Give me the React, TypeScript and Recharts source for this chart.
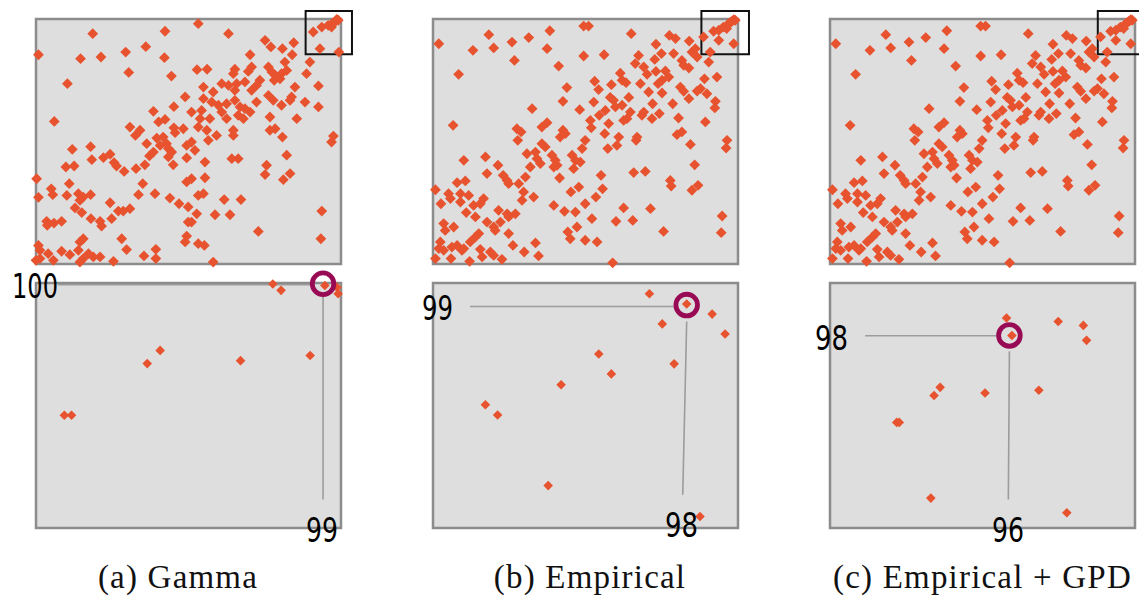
import React from 'react';
import { ScatterChart, Scatter, XAxis, YAxis, ReferenceArea, ReferenceLine } from 'recharts';

const POINT = '#e8532f';
const PANEL_BG = '#dedede';
const PANEL_EDGE = '#8c8c8c';
const RING = '#990a55';
const LEADER = '#9c9c9c';

// top panels: percentile rank of true vs. estimated (0-100)
const gammaTop: [number, number][] = [
  [42.3, 95.0], [18.6, 94.0], [0.8, 85.4], [14.6, 83.8], [21.3, 84.5], [29.4, 86.5], [36.0, 88.7], [42.1, 84.2],
  [30.4, 78.2], [44.4, 76.7], [10.3, 73.6], [48.9, 68.2], [38.5, 62.3], [45.2, 64.2], [6.0, 58.2], [30.8, 55.9],
  [40.2, 58.0], [42.3, 59.0], [34.1, 54.6], [32.6, 52.5], [45.2, 55.6], [48.3, 55.2], [45.6, 53.6], [39.6, 51.4],
  [41.7, 51.8], [36.3, 49.1], [40.7, 48.4], [42.8, 49.1], [49.4, 48.4], [43.4, 47.1], [44.5, 45.7], [38.5, 45.7],
  [37.2, 44.1], [43.4, 43.7], [45.0, 40.5], [49.4, 43.3], [11.9, 46.8], [17.9, 47.9], [18.3, 42.6], [22.1, 43.4],
  [24.3, 44.8], [25.6, 41.4], [26.4, 40.0], [28.9, 37.8], [32.8, 38.9], [35.7, 40.5], [9.8, 39.6], [12.5, 40.0],
  [0.2, 34.8], [35.0, 32.8], [10.9, 32.8], [5.0, 30.7], [5.5, 28.3], [0.8, 27.2], [10.1, 28.0], [13.9, 28.7],
  [15.5, 27.3], [17.9, 28.3], [14.4, 26.0], [33.6, 28.3], [39.0, 28.7], [43.9, 26.9], [46.9, 24.6], [49.4, 33.5],
  [49.9, 23.3], [24.3, 25.0], [12.8, 22.9], [15.0, 21.0], [27.0, 21.6], [28.6, 21.6], [30.8, 22.6], [3.5, 17.4],
  [3.7, 15.8], [5.9, 16.7], [8.4, 17.4], [18.0, 18.5], [21.0, 17.4], [21.5, 15.5], [24.8, 18.5], [49.9, 17.1],
  [28.1, 10.3], [15.5, 10.3], [14.4, 9.0], [13.9, 5.6], [49.4, 11.4], [48.9, 9.0], [0.8, 7.6], [1.3, 5.6],
  [4.0, 4.2], [8.4, 5.2], [11.1, 3.8], [0.0, 1.5], [1.3, 2.2], [5.7, 1.5], [14.4, 0.8], [15.5, 2.2],
  [17.2, 4.2], [18.8, 2.9], [21.0, 2.9], [25.4, 1.1], [29.7, 5.9], [35.4, 3.3], [39.3, 6.0], [39.3, 2.2],
  [53.2, 98.1], [63.1, 94.0], [75.1, 91.3], [77.0, 88.6], [80.8, 87.9], [84.5, 90.3], [70.2, 85.4], [84.0, 85.4],
  [81.6, 82.4], [52.8, 79.3], [56.1, 79.5], [65.2, 79.5], [64.7, 77.7], [69.6, 78.6], [70.7, 80.4], [76.2, 80.4],
  [77.3, 78.4], [78.4, 77.0], [80.5, 77.7], [82.2, 79.0], [80.0, 75.6], [78.1, 75.0], [73.4, 75.0], [72.3, 72.9],
  [68.5, 74.3], [60.9, 73.6], [63.1, 72.9], [65.8, 73.6], [65.2, 70.9], [70.7, 70.9], [54.9, 72.2], [58.1, 70.2],
  [89.8, 82.4], [88.7, 77.7], [92.6, 72.7], [84.9, 72.2], [54.9, 67.5], [57.6, 66.1], [59.8, 64.8], [62.5, 65.4],
  [65.2, 66.8], [66.9, 64.1], [68.5, 63.4], [70.2, 62.0], [72.3, 66.1], [76.2, 68.8], [77.8, 66.8], [80.5, 64.8],
  [83.3, 66.8], [83.8, 68.2], [88.2, 66.1], [92.6, 64.1], [51.0, 62.0], [54.3, 62.7], [53.8, 59.3], [57.0, 59.3],
  [60.9, 62.0], [62.5, 59.3], [66.3, 60.7], [68.0, 59.3], [53.2, 55.9], [56.0, 54.6], [59.2, 52.5], [56.5, 50.5],
  [64.7, 54.6], [64.7, 52.5], [76.7, 54.6], [78.4, 55.2], [80.8, 51.8], [85.5, 59.3], [76.7, 60.0], [51.0, 49.8],
  [52.1, 46.4], [55.4, 41.6], [64.2, 43.0], [66.3, 43.0], [82.2, 44.4], [75.6, 40.3], [75.1, 36.5], [83.3, 36.9],
  [81.1, 34.4], [97.5, 52.2], [96.9, 49.8], [51.0, 34.8], [55.4, 35.2], [53.2, 28.0], [54.9, 28.7], [52.7, 20.5],
  [51.0, 17.1], [58.7, 20.1], [63.6, 20.1], [61.7, 26.3], [67.2, 26.3], [93.7, 21.6], [72.9, 13.3], [93.4, 10.3],
  [53.2, 8.3], [55.2, 7.6], [58.1, 0.8], [90.9, 94.7], [93.7, 96.7], [95.8, 97.4], [98.0, 98.8], [99.1, 99.5],
  [96.9, 96.7], [93.1, 87.9], [99.3, 86.5], [97.2, 98.3], [98.6, 99.8],
];

// empirical and empirical + GPD share the same ranks in the full view
const empiricalTop: [number, number][] = [
  [49.4, 97.1], [1.9, 89.9], [18.3, 93.6], [25.9, 90.6], [31.4, 92.4], [38.3, 95.2], [13.1, 87.2], [19.9, 88.2],
  [37.4, 87.9], [49.4, 84.9], [26.7, 83.1], [41.2, 80.8], [8.4, 77.4], [43.9, 72.0], [42.6, 66.4], [48.1, 63.0],
  [32.5, 63.4], [6.6, 56.6], [27.5, 55.2], [28.9, 53.9], [27.8, 50.5], [35.7, 55.9], [37.4, 57.7], [42.6, 54.6],
  [43.4, 53.2], [41.7, 51.8], [35.7, 49.1], [36.8, 47.8], [49.9, 50.5], [48.9, 47.1], [30.8, 45.0], [33.6, 45.7],
  [34.1, 43.0], [35.2, 41.0], [31.9, 39.6], [39.0, 44.4], [40.1, 42.3], [39.6, 39.6], [40.7, 40.3], [45.6, 44.4],
  [46.7, 42.3], [48.3, 41.6], [46.1, 38.9], [41.5, 35.1], [10.1, 42.3], [17.2, 43.7], [21.3, 40.3], [17.7, 36.9],
  [23.0, 36.2], [24.3, 34.1], [24.8, 32.8], [28.1, 32.8], [30.3, 35.5], [29.7, 29.4], [33.0, 27.3], [29.2, 26.0],
  [7.9, 33.2], [10.6, 33.9], [0.8, 30.3], [5.1, 28.7], [5.7, 26.7], [2.6, 24.6], [9.0, 28.7], [11.7, 28.0],
  [9.0, 25.3], [13.3, 23.9], [15.5, 24.6], [16.6, 26.7], [10.9, 21.0], [13.9, 19.2], [21.5, 21.9], [24.3, 20.5],
  [24.8, 19.2], [27.0, 20.5], [22.1, 17.1], [17.7, 17.1], [19.9, 15.1], [20.4, 13.7], [39.6, 23.9], [43.1, 21.5],
  [46.7, 21.2], [45.2, 29.4], [47.8, 31.4], [49.9, 24.6], [47.2, 15.1], [44.2, 13.1], [45.0, 10.3], [49.9, 9.7],
  [3.5, 16.5], [4.0, 13.7], [6.8, 15.1], [2.4, 9.0], [1.9, 6.3], [3.5, 5.6], [6.2, 6.9], [7.9, 7.6],
  [10.1, 6.3], [12.2, 9.0], [13.9, 11.0], [15.0, 12.4], [15.5, 6.0], [18.8, 4.9], [19.9, 3.5], [24.8, 12.4],
  [26.2, 7.6], [29.9, 4.9], [33.6, 8.6], [34.6, 3.3], [0.8, 2.2], [5.9, 2.2], [12.0, 1.1], [16.1, 2.9],
  [22.6, 1.9], [9.5, 5.6],
  [51.0, 97.1], [65.0, 94.0], [77.5, 93.3], [79.5, 92.0], [84.0, 91.0], [88.7, 92.7], [73.1, 89.7], [74.9, 85.9],
  [72.7, 83.5], [78.9, 85.9], [67.4, 85.1], [66.3, 81.8], [69.1, 80.4], [56.1, 85.4], [86.0, 87.9], [84.9, 86.5],
  [86.6, 84.5], [81.6, 83.1], [82.2, 81.1], [83.9, 80.0], [90.4, 82.4], [61.4, 77.9], [70.2, 77.4], [73.1, 78.6],
  [76.2, 78.8], [77.3, 76.3], [75.1, 75.0], [53.0, 74.6], [54.3, 71.2], [58.5, 73.2], [62.0, 75.0], [63.3, 74.0],
  [68.0, 73.6], [73.8, 73.6], [70.7, 70.2], [75.1, 69.8], [81.1, 72.2], [82.2, 70.5], [83.9, 67.5], [86.6, 70.6],
  [87.7, 71.6], [89.8, 69.5], [89.0, 75.6], [93.1, 76.3], [92.6, 66.4], [92.4, 63.7], [78.6, 65.4], [72.0, 65.4],
  [64.2, 68.0], [58.1, 68.0], [59.2, 66.8], [52.7, 66.1], [56.5, 62.7], [54.5, 60.7], [59.8, 64.1], [62.0, 64.8],
  [64.7, 62.0], [63.6, 59.3], [62.5, 58.6], [69.1, 62.0], [68.5, 60.7], [71.8, 59.3], [74.2, 61.4], [80.5, 59.6],
  [89.3, 58.0], [51.6, 58.6], [51.9, 55.6], [57.6, 57.3], [56.3, 53.2], [60.9, 51.8], [60.3, 48.4], [66.9, 51.8],
  [66.6, 50.5], [57.3, 47.1], [80.0, 52.8], [81.6, 53.9], [84.4, 48.8], [96.4, 50.5], [96.1, 47.3], [85.8, 40.5],
  [65.8, 37.3], [69.6, 37.8], [77.8, 34.1], [78.1, 31.8], [84.9, 30.1], [86.9, 32.1], [55.1, 36.2], [55.6, 30.7],
  [53.4, 27.3], [62.5, 22.9], [71.3, 22.6], [52.1, 18.5], [60.0, 17.4], [65.5, 17.8], [94.8, 19.6], [94.5, 12.8],
  [75.6, 13.3], [53.8, 9.0], [58.9, 0.5], [92.0, 95.0], [93.7, 95.4], [95.2, 96.7], [96.9, 98.1], [98.0, 99.0],
  [99.1, 99.5], [96.3, 96.1], [93.7, 91.3], [98.6, 89.9], [90.9, 86.5], [97.5, 98.6], [98.6, 99.7],
];

// zoomed corners (top ranks)
const gammaZoom: [number, number][] = [
  [97.60, 100.26], [97.83, 100.0], [99.05, 100.2], [99.39, 100.12], [99.42, 99.86], [94.46, 97.55],
  [94.10, 97.01], [96.70, 97.13], [98.64, 97.34], [91.79, 94.90], [91.99, 94.90],
];
const empiricalZoom: [number, number][] = [
  [97.03, 99.86], [98.07, 99.44], [98.78, 99.03], [99.14, 98.22], [97.39, 98.63], [97.72, 97.0],
  [95.62, 97.40], [95.97, 96.59], [94.57, 96.15], [92.46, 95.33], [92.80, 94.91], [94.21, 92.03], [98.44, 90.77],
];
const gpdZoom: [number, number][] = [
  [95.92, 98.87], [96.07, 98.16], [97.36, 98.73], [98.06, 98.57], [98.15, 97.96], [94.07, 96.04],
  [93.90, 95.71], [95.32, 95.81], [96.82, 95.92], [92.86, 94.61], [92.93, 94.61], [93.81, 91.52], [97.60, 90.92],
];

const captions = ['(a) Gamma', '(b) Empirical', '(c) Empirical + GPD'];
const xRankLabels = ['99', '98', '96'];
const yRankLabels = ['100', '99', '98'];
const ringAt = [
  { x: 99.0, y: 100.27 },
  { x: 98.07, y: 99.40 },
  { x: 96.0, y: 98.16 },
];
// leader segments: [horizontal start x, horizontal end x, y], [vertical x top, y top, x bottom, y bottom]
const leadersH = [
  [91.61, 98.7, 100.23],
  [92.03, 97.7, 99.34],
  [91.98, 95.65, 98.15],
];
const leadersV = [
  [99.0, 99.74, 99.0, 91.46],
  [98.07, 98.73, 97.96, 91.66],
  [96.0, 97.51, 95.97, 91.46],
];
const cornerBoxes = [
  [88.4, 103.6, 85.6, 103.3],
  [88.0, 103.6, 85.6, 103.3],
  [87.8, 103.6, 85.6, 103.3],
];

const toXY = (pts: [number, number][]) => pts.map(([x, y]) => ({ x, y }));

const diamond = (r: number) => (props: any) => {
  const { cx, cy } = props;
  if (cx == null || cy == null) return <g />;
  return (
    <polygon
      points={`${cx},${cy - r} ${cx + r},${cy} ${cx},${cy + r} ${cx - r},${cy}`}
      fill={POINT}
    />
  );
};

const ring = (props: any) => {
  const { cx, cy } = props;
  if (cx == null || cy == null) return <g />;
  return <circle cx={cx} cy={cy} r={10.8} fill="none" stroke={RING} strokeWidth={4.8} />;
};

const COL = 397;
const LABEL_FONT = '"DejaVu Sans Condensed", "Liberation Sans Narrow", sans-serif';

const TopPanel = ({ data, i }: { data: [number, number][]; i: number }) => {
  const b = cornerBoxes[i];
  return (
    <div style={{ position: 'absolute', left: COL * i, top: 0 }}>
      <ScatterChart width={COL} height={275} margin={{ top: 19, right: 56, bottom: 11, left: 36 }}>
        <XAxis type="number" dataKey="x" domain={[0, 100]} hide />
        <YAxis type="number" dataKey="y" domain={[0, 100]} hide />
        <ReferenceArea
          x1={0} x2={100} y1={0} y2={100}
          fill={PANEL_BG} fillOpacity={1} stroke={PANEL_EDGE} strokeWidth={2.5}
        />
        <Scatter data={toXY(data)} shape={diamond(5.4)} isAnimationActive={false} />
        <ReferenceArea
          x1={b[0]} x2={b[1]} y1={b[2]} y2={b[3]} ifOverflow="visible"
          fill="none" fillOpacity={0} stroke="#111" strokeWidth={2}
        />
      </ScatterChart>
    </div>
  );
};

const ZoomPanel = ({ data, i }: { data: [number, number][]; i: number }) => {
  const h = leadersH[i];
  const v = leadersV[i];
  return (
    <div style={{ position: 'absolute', left: COL * i, top: 260 }}>
      <ScatterChart width={COL} height={290} margin={{ top: 23, right: 56, bottom: 22, left: 36 }}>
        <XAxis type="number" dataKey="x" domain={[91, 99.5]} hide />
        <YAxis type="number" dataKey="y" domain={[90.3, 100.3]} hide />
        <ReferenceArea
          x1={91} x2={99.5} y1={90.3} y2={100.3}
          fill={PANEL_BG} fillOpacity={1} stroke={PANEL_EDGE} strokeWidth={2.5}
        />
        <ReferenceLine
          segment={[{ x: h[0], y: h[2] }, { x: h[1], y: h[2] }]}
          stroke={LEADER} strokeWidth={1.6} ifOverflow="visible"
        />
        <ReferenceLine
          segment={[{ x: v[0], y: v[1] }, { x: v[2], y: v[3] }]}
          stroke={LEADER} strokeWidth={1.6} ifOverflow="visible"
        />
        <Scatter data={toXY(data)} shape={diamond(4.8)} isAnimationActive={false} />
        <Scatter data={[ringAt[i]]} shape={ring} isAnimationActive={false} />
      </ScatterChart>
    </div>
  );
};

// label anchors in page pixels
const yLabelPos = [
  { x: 12, y: 298, w: 46 },
  { x: 422, y: 320, w: 31 },
  { x: 815, y: 350, w: 33 },
];
const xLabelPos = [
  { x: 306, y: 542, w: 32 },
  { x: 665, y: 537, w: 33 },
  { x: 992, y: 542, w: 32 },
];
const captionPos = [
  { x: 178, anchor: 'middle' },
  { x: 590, anchor: 'middle' },
  { x: 833, anchor: 'start' },
];

export default function App() {
  return (
    <div
      style={{
        position: 'absolute', left: 0, top: 0, width: 1139, height: 600,
        overflow: 'hidden', background: '#fff',
      }}
    >
      <TopPanel data={gammaTop} i={0} />
      <TopPanel data={empiricalTop} i={1} />
      <TopPanel data={empiricalTop} i={2} />
      <ZoomPanel data={gammaZoom} i={0} />
      <ZoomPanel data={empiricalZoom} i={1} />
      <ZoomPanel data={gpdZoom} i={2} />
      <svg
        width={1139} height={600}
        style={{ position: 'absolute', left: 0, top: 0, pointerEvents: 'none' }}
      >
        {yRankLabels.map((t, i) => (
          <text key={`y${i}`} x={yLabelPos[i].x} y={yLabelPos[i].y}
            textLength={yLabelPos[i].w} lengthAdjust="spacingAndGlyphs"
            fontFamily={LABEL_FONT} fontSize={34} fill="#000">{t}</text>
        ))}
        {xRankLabels.map((t, i) => (
          <text key={`x${i}`} x={xLabelPos[i].x} y={xLabelPos[i].y}
            textLength={xLabelPos[i].w} lengthAdjust="spacingAndGlyphs"
            fontFamily={LABEL_FONT} fontSize={34} fill="#000">{t}</text>
        ))}
        {captions.map((t, i) => (
          <text key={`c${i}`} x={captionPos[i].x} y={588} textAnchor={captionPos[i].anchor as any}
            fontFamily='"Liberation Serif", "Times New Roman", serif' fontSize={33}
            letterSpacing={1.2} fill="#111">{t}</text>
        ))}
      </svg>
    </div>
  );
}
